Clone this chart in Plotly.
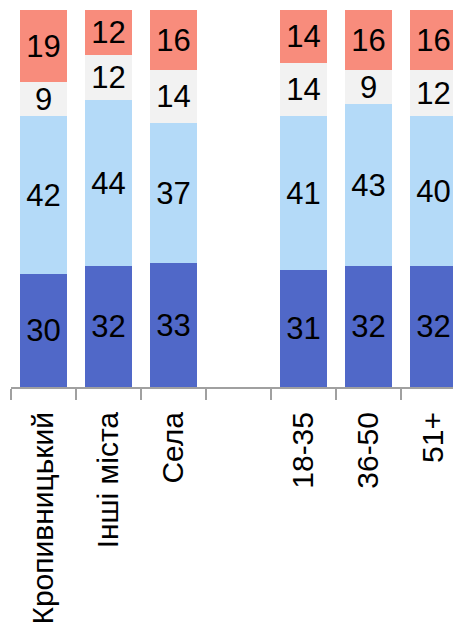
import plotly.graph_objects as go

categories = ["Кропивницький", "Інші міста", "Села", " ", "18-35", "36-50", "51+"]
s1 = [30, 32, 33, None, 31, 32, 32]   # dark blue
s2 = [42, 44, 37, None, 41, 43, 40]   # light blue
s3 = [9, 12, 14, None, 14, 9, 12]     # light gray
s4 = [19, 12, 16, None, 14, 16, 16]   # salmon

colors = ["#5068C8", "#B4DAF8", "#F2F2F2", "#F88C7C"]
FONT = "Liberation Sans Narrow, Arial Narrow, Liberation Sans, Arial"

fig = go.Figure()
for vals, col in zip([s1, s2, s3, s4], colors):
    fig.add_trace(go.Bar(
        x=categories, y=vals, marker=dict(color=col, line=dict(width=0)),
        width=0.72,
        text=[("" if v is None else str(v)) for v in vals],
        textposition="inside", insidetextanchor="middle", textangle=0,
        constraintext="none",
        textfont=dict(family=FONT, size=31, color="black"),
        hoverinfo="skip", showlegend=False,
    ))

# page body has an 8px default margin, so the figure is sized to fit the window
fig.update_layout(
    barmode="stack",
    width=453, height=618,
    margin=dict(l=3, r=0, t=2, b=239),
    paper_bgcolor="white", plot_bgcolor="white",
    bargap=0,
)
fig.update_xaxes(
    type="category", range=[-0.5, 6.423], automargin=False,
    tickson="boundaries", ticks="outside", ticklen=11, tickwidth=1.5, tickcolor="#A0A0A0",
    showline=True, linecolor="#A0A0A0", linewidth=2,
    tickangle=-90, tickfont=dict(family=FONT, size=30, color="black"),
    ticklabelstandoff=11,
    showgrid=False, fixedrange=True,
)
fig.update_yaxes(range=[0, 100], visible=False, showgrid=False)

fig.write_html("out.html")
